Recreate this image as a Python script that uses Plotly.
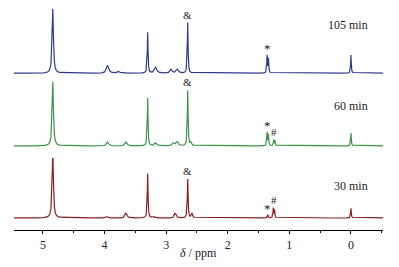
import numpy as np
import plotly.graph_objects as go

# Peak tables: (shift ppm, relative height, half-width ppm)
labels = ["105 min", "60 min", "30 min"]
label_levels = [74, 62, 49]
colors = ["#2f3a8a", "#3a9447", "#8c1c22"]

peaks_105_ppm = [4.84, 3.95, 3.77, 3.30, 3.17, 2.92, 2.82, 2.65, 1.362, 1.340, 0.0]
peaks_105_h = [100, 12, 3, 63, 9, 6, 6, 78, 27, 22, 28]
peaks_105_w = [0.012, 0.022, 0.02, 0.007, 0.022, 0.02, 0.02, 0.007, 0.006, 0.006, 0.006]

peaks_60_ppm = [4.84, 3.95, 3.65, 3.30, 3.17, 2.88, 2.82, 2.65, 2.60, 1.362, 1.340, 1.255, 1.235, 0.0]
peaks_60_h = [100, 6, 6, 74, 5, 5, 6, 85, 5, 21, 17, 9, 8, 20]
peaks_60_w = [0.012, 0.02, 0.02, 0.007, 0.02, 0.02, 0.02, 0.007, 0.015, 0.006, 0.006, 0.006, 0.006, 0.006]

peaks_30_ppm = [4.84, 3.97, 3.66, 3.64, 3.30, 3.20, 2.86, 2.84, 2.65, 2.58, 1.35, 1.26, 1.24, 0.0]
peaks_30_h = [100, 2, 6, 5, 68, 2, 6, 5, 60, 7, 5, 15, 12, 15]
peaks_30_w = [0.012, 0.02, 0.012, 0.012, 0.007, 0.02, 0.012, 0.012, 0.007, 0.012, 0.008, 0.006, 0.006, 0.006]

tick_vals = [5, 4, 3, 2, 1, 0]
tick_text = ["5", "4", "3", "2", "1", "0"]

# markers: (label, ppm) per spectrum
marks_105 = [("&", 2.65), ("*", 1.35)]
marks_60 = [("&", 2.65), ("*", 1.35), ("#", 1.245)]
marks_30 = [("&", 2.65), ("*", 1.36), ("#", 1.245)]
mark_sizes = {"&": 11, "*": 13, "#": 11}

x = np.linspace(-0.55, 5.5, 12001)


def spectrum(pp, hh, ww):
    y = np.zeros_like(x)
    for p, h, w in zip(pp, hh, ww):
        y += h * w**2 / ((x - p) ** 2 + w**2)
    return y


spectra = [
    spectrum(peaks_105_ppm, peaks_105_h, peaks_105_w),
    spectrum(peaks_60_ppm, peaks_60_h, peaks_60_w),
    spectrum(peaks_30_ppm, peaks_30_h, peaks_30_w),
]
marks = [marks_105, marks_60, marks_30]

fig = go.Figure()
axes = ["y3", "y2", "y"]
domains = [[0.655, 1.0], [0.326, 0.671], [0.0, 0.345]]
yr = [-18.5, 99]
serif = "Liberation Serif"
txt = "#222222"

for i in range(3):
    fig.add_trace(go.Scatter(x=x, y=spectra[i], mode="lines", yaxis=axes[i],
                             line=dict(color=colors[i], width=1.2), showlegend=False,
                             hoverinfo="skip"))
    for sym, p in marks[i]:
        sel = np.abs(x - p) < 0.02
        top = float(spectra[i][sel].max())
        fig.add_annotation(x=p, y=top, xref="x", yref=axes[i], text=sym,
                           showarrow=False, yanchor="bottom",
                           yshift=-3 if sym == "*" else 0,
                           font=dict(family=serif, size=mark_sizes[sym], color=txt))
    fig.add_annotation(x=-0.31, y=label_levels[i], xref="x", yref=axes[i], text=labels[i],
                       showarrow=False, xanchor="right", yanchor="middle",
                       font=dict(family=serif, size=12, color=txt))

fig.add_annotation(x=0.5, y=0, xref="paper", yref="paper", text="<i>δ</i> / ppm",
                   showarrow=False, yanchor="middle", yshift=-23,
                   font=dict(family=serif, size=12, color=txt))

common_y = dict(range=yr, visible=False, fixedrange=True)
fig.update_layout(
    width=391, height=259,
    margin=dict(l=6, r=16, t=1, b=37),
    plot_bgcolor="white", paper_bgcolor="white",
    xaxis=dict(range=[5.47, -0.52], tickvals=tick_vals, ticktext=tick_text,
               showline=True, linecolor="black", linewidth=1.2,
               ticks="outside", ticklen=3, tickcolor="black", showgrid=False, zeroline=False,
               minor=dict(dtick=0.5, tick0=0, ticks="outside", ticklen=2, tickcolor="black"),
               tickfont=dict(family=serif, size=12, color=txt)),
    yaxis=dict(domain=domains[2], **common_y),
    yaxis2=dict(domain=domains[1], anchor="x", **common_y),
    yaxis3=dict(domain=domains[0], anchor="x", **common_y),
)

fig.write_html("out.html")
